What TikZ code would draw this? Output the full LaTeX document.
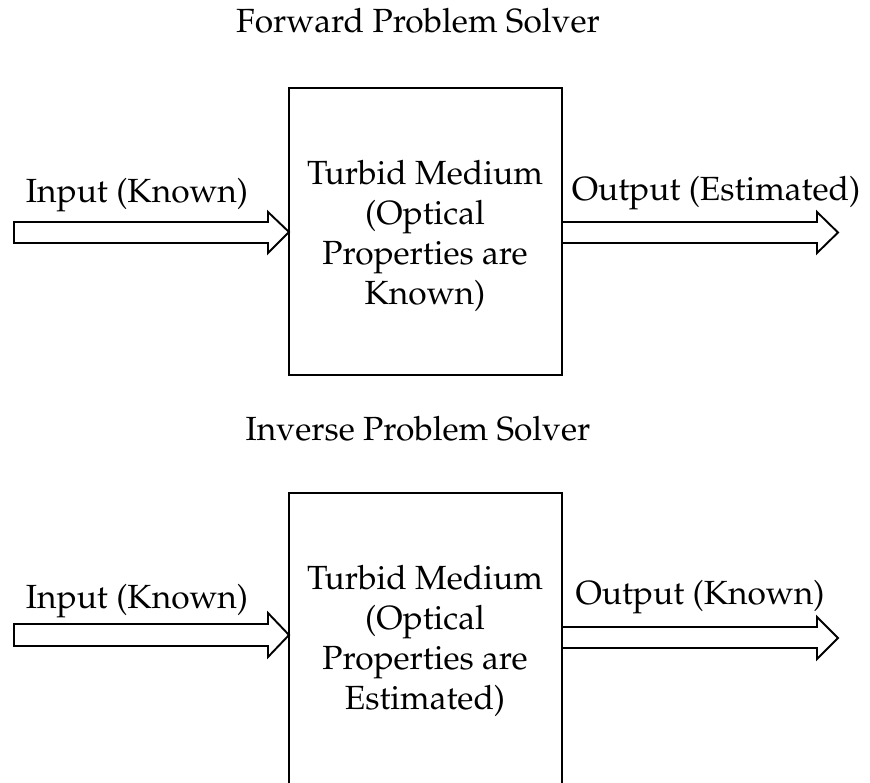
\documentclass[tikz,border=0pt]{standalone}
\usepackage[T1]{fontenc}
\usepackage{mathpazo}
\begin{document}
\begin{tikzpicture}[x=1pt,y=-1pt,
  every node/.style={font=\fontsize{33.5}{40}\selectfont, inner sep=0pt},
  medium/.style={draw, line width=1.9pt},
  fatarrow/.style={draw, line width=1.9pt, fill=white, line join=miter},
  label/.style={anchor=base}]
\useasboundingbox (0,0) rectangle (870,782);

% ---- forward problem ----
\node[label] (ftitle) at (418,32) {Forward Problem Solver};
\coordinate (fboxW) at (289,232);
\coordinate (fboxE) at (562,232);
\node[label] (fin) at (137,202) {Input (Known)};
\node[label] (fout) at (716,200) {Output (Estimated)};
\draw[fatarrow] (14,222) -- (268,222) -- (268,212) -- (fboxW) -- (268,253)
  -- (268,243) -- (14,243) -- cycle;
\draw[fatarrow] (fboxE) ++(0,-10) -- (817,222) -- (817,212) -- (838,232.5)
  -- (817,253) -- (817,243) -- (562,243) -- cycle;
\draw[medium] (289,88) rectangle (562,375);
\node[align=center] (ftext) at (425,236)
  {Turbid Medium\\(Optical\\Properties are\\Known)};

% ---- inverse problem ----
\node[label] (ititle) at (418,440) {Inverse Problem Solver};
\coordinate (iboxW) at (289,635);
\coordinate (iboxE) at (562,637);
\node[label] (iin) at (137,608) {Input (Known)};
\node[label] (iout) at (700,604) {Output (Known)};
\draw[fatarrow] (14,624) -- (268,624) -- (268,613) -- (iboxW) -- (268,657)
  -- (268,646) -- (14,646) -- cycle;
\draw[fatarrow] (iboxE) ++(0,-10) -- (817,627) -- (817,617) -- (838,638)
  -- (817,659) -- (817,648) -- (562,648) -- cycle;
\draw[medium] (289,493) rectangle (562,784);
\node[align=center] (itext) at (425,641)
  {Turbid Medium\\(Optical\\Properties are\\Estimated)};
\end{tikzpicture}
\end{document}
